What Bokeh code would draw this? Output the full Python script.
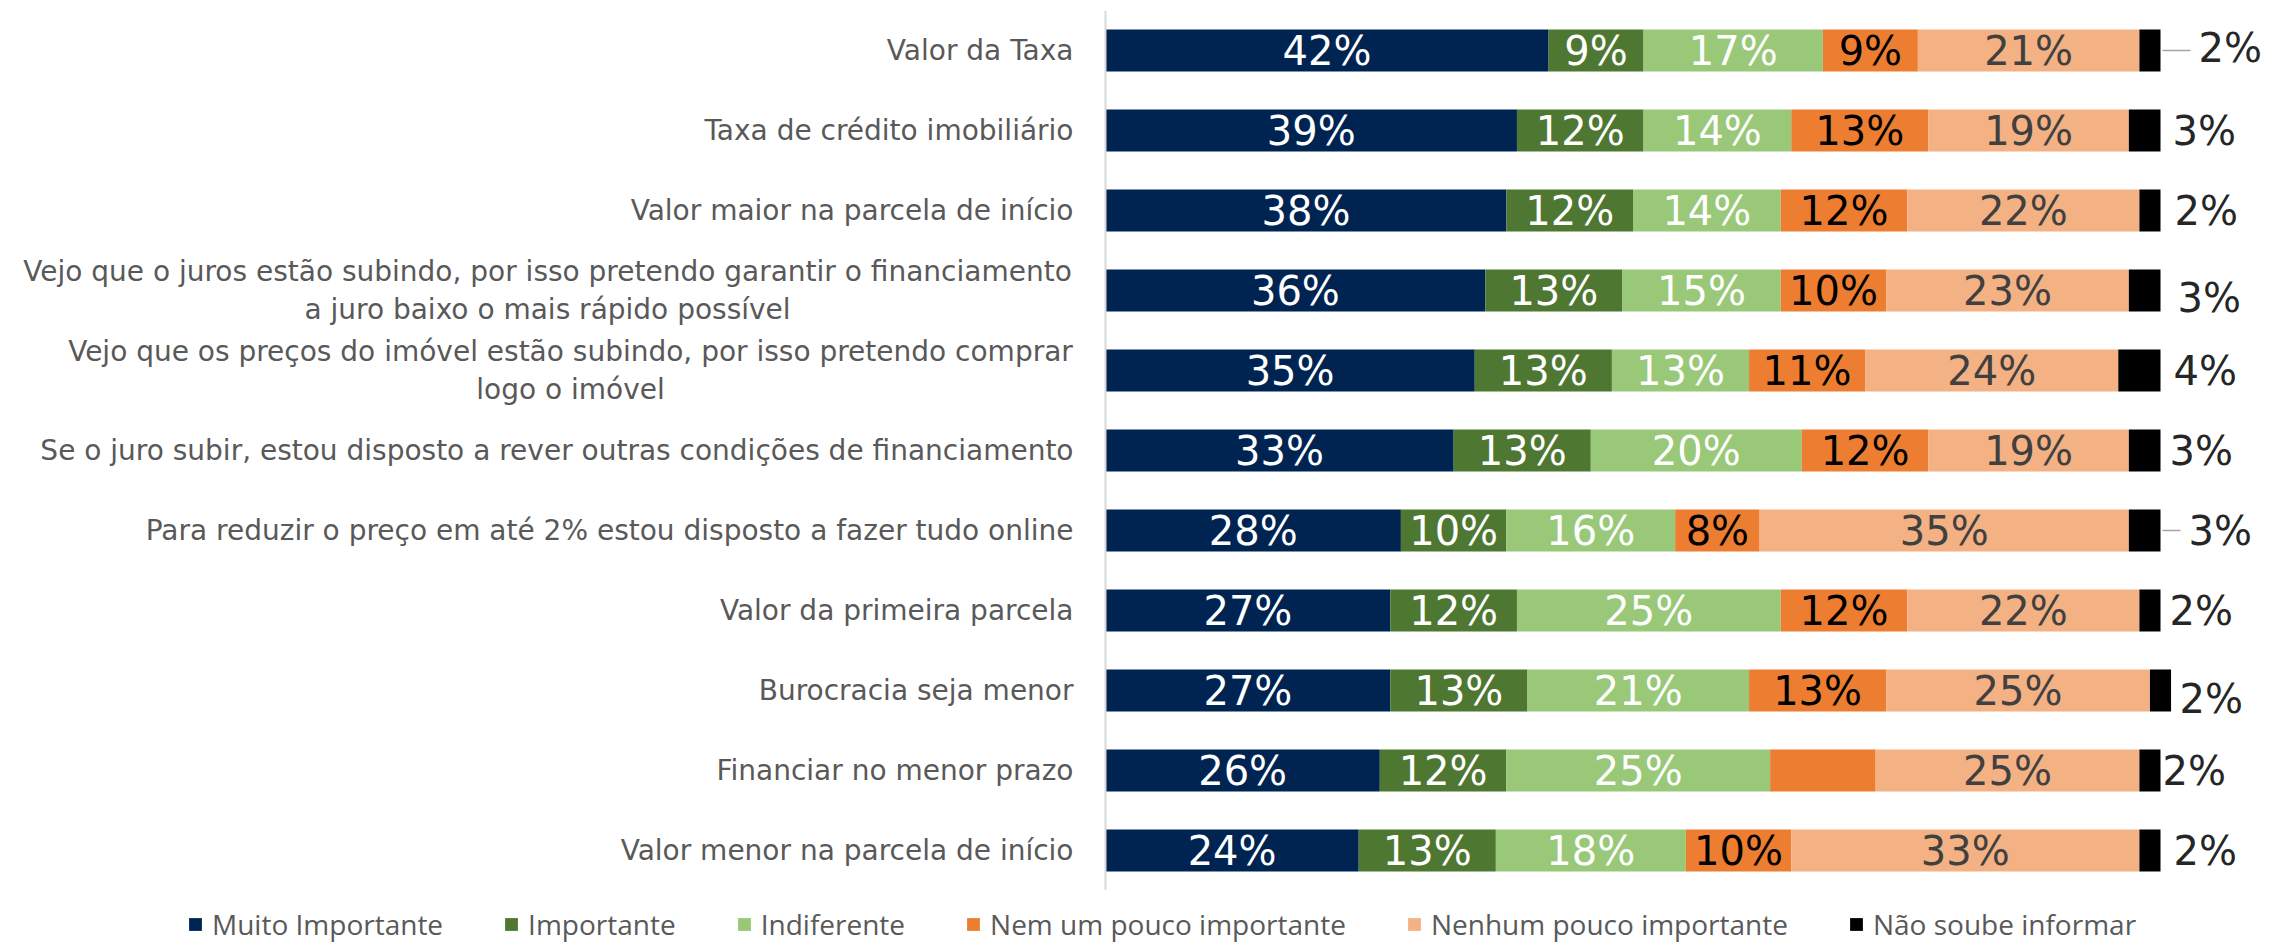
from bokeh.plotting import figure
from bokeh.layouts import column
from bokeh.models import ColumnDataSource, FactorRange, Range1d, Legend, LegendItem, Span
from bokeh.core.properties import value
from bokeh.embed import file_html
from bokeh.resources import INLINE

# ---------------- data ----------------
categories = [
    "Valor da Taxa",
    "Taxa de crédito imobiliário",
    "Valor maior na parcela de início",
    "Vejo que o juros estão subindo, por isso pretendo garantir o financiamento\na juro baixo o mais rápido possível",
    "Vejo que os preços do imóvel estão subindo, por isso pretendo comprar\nlogo o imóvel",
    "Se o juro subir, estou disposto a rever outras condições de financiamento",
    "Para reduzir o preço em até 2% estou disposto a fazer tudo online",
    "Valor da primeira parcela",
    "Burocracia seja menor",
    "Financiar no menor prazo",
    "Valor menor na parcela de início",
]
series_names = ["Muito Importante", "Importante", "Indiferente",
                "Nem um pouco importante", "Nenhum pouco importante", "Não soube informar"]
muito_importante = [42, 39, 38, 36, 35, 33, 28, 27, 27, 26, 24]
importante = [9, 12, 12, 13, 13, 13, 10, 12, 13, 12, 13]
indiferente = [17, 14, 14, 15, 13, 20, 16, 25, 21, 25, 18]
nem_um_pouco = [9, 13, 12, 10, 11, 12, 8, 12, 13, 10, 10]
nenhum_pouco = [21, 19, 22, 23, 24, 19, 35, 22, 25, 25, 33]
nao_soube = [2, 3, 2, 3, 4, 3, 3, 2, 2, 2, 2]
# labels not shown in the original (series, category)
hidden_labels = [("Nem um pouco importante", "Financiar no menor prazo")]

series_values = [muito_importante, importante, indiferente, nem_um_pouco, nenhum_pouco, nao_soube]

# ---------------- style ----------------
W = 2269
MAIN_H = 890            # 10 px top border + 880 px frame
LEG_H = 53
TOP = 10
ZERO_PX = 1105          # screen x of 0 %
PX_PER_PCT = 10.55      # screen px per 1 %
colors = ["#002452", "#4E7731", "#99C878", "#ED7D31", "#F4B183", "#000000"]
label_colors = ["#FFFFFF", "#FFFFFF", "#FFFFFF", "#000000", "#404040", "#262626"]
cat_gap = 32
multi_center_dx = {3: 558, 4: 535}
end_dx = [38, 12, 14, 17, 13, 9, 28, 9, 19, 2, 13]
end_dy = [-3, 0, 0, 7, 0, 0, 0, 0, 8, 0, 0]
leader_rows = [0, 6]
LABEL_FONT = "DejaVu Sans"

keys = ["s%d" % i for i in range(len(series_names))]
src = ColumnDataSource(dict(cat=categories, **{k: v for k, v in zip(keys, series_values)}))

p = figure(width=W, height=MAIN_H, output_backend="svg", toolbar_location=None,
           x_range=Range1d(-ZERO_PX / PX_PER_PCT, (W - ZERO_PX) / PX_PER_PCT),
           y_range=FactorRange(factors=categories[::-1], range_padding=0),
           x_axis_location=None, y_axis_location=None,
           min_border=0, min_border_top=TOP)
p.grid.visible = False
p.outline_line_color = None
p.background_fill_color = "white"
p.border_fill_color = "white"

renderers = p.hbar_stack(keys, y="cat", height=0.525, color=colors, line_color=None, source=src)

# vertical axis line
p.add_layout(Span(location=0, dimension="height", line_color="#D9D9D9", line_width=2))

# segment labels
lx, ly, lt, lc = [], [], [], []
ex, ey, et, edx, edy = [], [], [], [], []
for r, cat in enumerate(categories):
    left = 0
    for s, name in enumerate(series_names):
        v = series_values[s][r]
        if s < len(series_names) - 1:
            if (name, cat) not in hidden_labels:
                lx.append(left + v / 2)
                ly.append(cat)
                lt.append("%d%%" % v)
                lc.append(label_colors[s])
        else:
            ex.append(100)
            ey.append(cat)
            et.append("%d%%" % v)
            edx.append(end_dx[r])
            edy.append(end_dy[r])
        left += v

p.text(x="x", y="y", text="t", text_color="c",
       source=ColumnDataSource(dict(x=lx, y=ly, t=lt, c=lc)),
       text_align="center", text_baseline="middle",
       text_font=value(LABEL_FONT), text_font_size="40px")

p.text(x="x", y="y", text="t", x_offset="dx", y_offset="dy",
       source=ColumnDataSource(dict(x=ex, y=ey, t=et, dx=edx, dy=edy)),
       text_color=label_colors[-1], text_align="left", text_baseline="middle",
       text_font=value(LABEL_FONT), text_font_size="40px")

# leader lines
p.segment(x0=[100 + 2 / PX_PER_PCT for r in leader_rows],
          x1=[100 + (end_dx[r] - 8) / PX_PER_PCT for r in leader_rows],
          y0=[categories[r] for r in leader_rows], y1=[categories[r] for r in leader_rows],
          line_color="#A6A6A6", line_width=1.5)

# category labels
single = [c for i, c in enumerate(categories) if i not in multi_center_dx]
p.text(x=[0] * len(single), y=single, text=single, x_offset=-cat_gap,
       text_align="right", text_baseline="middle", text_color="#595959",
       text_font=value(LABEL_FONT), text_font_size="28px")
multi_idx = sorted(multi_center_dx)
p.text(x=[0] * len(multi_idx), y=[categories[i] for i in multi_idx],
       text=[categories[i] for i in multi_idx],
       x_offset=[-multi_center_dx[i] for i in multi_idx],
       text_align="center", text_baseline="middle", text_color="#595959",
       text_line_height=1.15,
       text_font=value(LABEL_FONT), text_font_size="28px")

# ---------------- legend strip ----------------
# same stacked glyphs with zero thickness, only to feed the legend swatches
pl = figure(width=W, height=LEG_H, output_backend="svg", toolbar_location=None,
            x_range=Range1d(0, 100), y_range=FactorRange(factors=categories[::-1]),
            x_axis_location=None, y_axis_location=None, min_border=0)
pl.grid.visible = False
pl.outline_line_color = None
pl.border_fill_color = "white"
pl.background_fill_color = "white"
leg_renderers = pl.hbar_stack(keys, y="cat", height=0, color=colors, line_color=None, source=src)
legend = Legend(items=[LegendItem(label=n, renderers=[r]) for n, r in zip(series_names, leg_renderers)],
                orientation="horizontal", location=(187, 0),
                glyph_width=16, glyph_height=16, label_standoff=9, spacing=60,
                padding=0, margin=0, border_line_color=None, background_fill_alpha=0,
                label_text_font="Open Sans", label_text_font_size="28px",
                label_text_color="#595959")
pl.add_layout(legend, "center")

open("out.html", "w").write(file_html(column(p, pl, spacing=0), INLINE))
